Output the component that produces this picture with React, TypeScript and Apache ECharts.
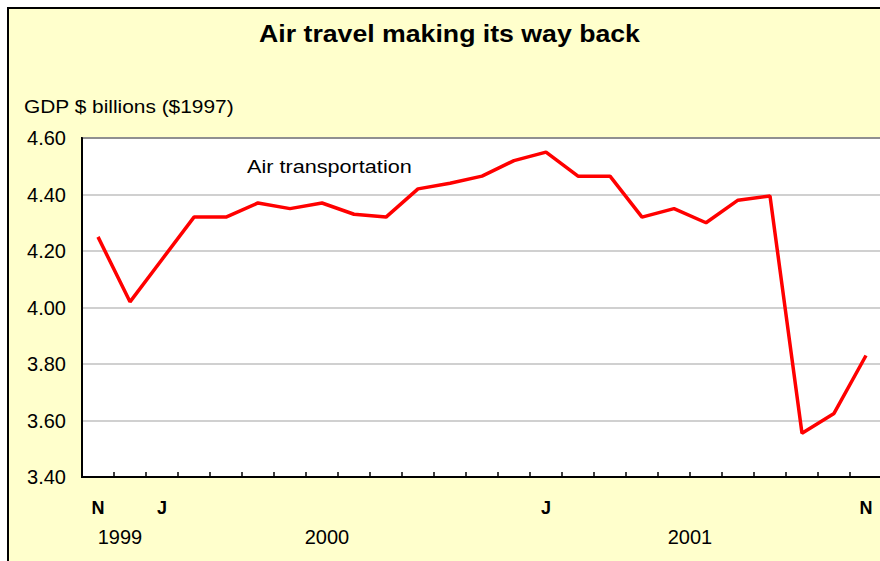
import React, { useEffect, useRef } from "react";
import * as echarts from "echarts";

const months = [
  "Nov 1999", "Dec 1999",
  "Jan 2000", "Feb 2000", "Mar 2000", "Apr 2000", "May 2000", "Jun 2000",
  "Jul 2000", "Aug 2000", "Sep 2000", "Oct 2000", "Nov 2000", "Dec 2000",
  "Jan 2001", "Feb 2001", "Mar 2001", "Apr 2001", "May 2001", "Jun 2001",
  "Jul 2001", "Aug 2001", "Sep 2001", "Oct 2001", "Nov 2001",
];

const tickLabels = [
  "N", "", "J", "", "", "", "", "", "", "", "", "", "", "",
  "J", "", "", "", "", "", "", "", "", "", "N",
];

const airTransportation = [
  4.25, 4.02, 4.17, 4.32, 4.32, 4.37, 4.35, 4.37, 4.33, 4.32, 4.42, 4.44,
  4.465, 4.52, 4.55, 4.465, 4.465, 4.32, 4.35, 4.3, 4.38, 4.395, 3.555,
  3.625, 3.83,
];

const yearLabels = ["1999", "2000", "2001"];

const FONT = "'Liberation Sans', Arial, Helvetica, sans-serif";

export default function App() {
  const ref = useRef<HTMLDivElement>(null);

  useEffect(() => {
    if (!ref.current) return;
    const chart = echarts.init(ref.current, null, { renderer: "svg" });
    const yearX = [120, 327, 690];
    chart.setOption({
      animation: false,
      backgroundColor: "#ffffff",
      textStyle: { fontFamily: FONT },
      grid: {
        left: 82,
        top: 138,
        width: 800,
        height: 339,
        show: true,
        backgroundColor: "#ffffff",
        borderColor: "#000000",
        borderWidth: 2,
      },
      xAxis: {
        type: "category",
        data: months,
        boundaryGap: true,
        z: 5,
        axisLine: { show: true, lineStyle: { color: "#000", width: 2 } },
        axisTick: {
          show: true,
          inside: true,
          length: 5,
          interval: 0,
          lineStyle: { color: "#000", width: 1.5 },
        },
        axisLabel: {
          interval: 0,
          margin: 22,
          color: "#000",
          fontSize: 18,
          fontWeight: "bold",
          fontFamily: FONT,
          formatter: (_v: string, i: number) => tickLabels[i],
        },
        splitLine: { show: false },
      },
      yAxis: {
        type: "value",
        min: 3.4,
        max: 4.6,
        interval: 0.2,
        axisLine: { show: true, lineStyle: { color: "#000", width: 2 } },
        axisTick: { show: false },
        axisLabel: {
          margin: 16,
          color: "#000",
          fontSize: 20,
          fontFamily: FONT,
          formatter: (v: number) => v.toFixed(2),
        },
        splitLine: { show: true, lineStyle: { color: "#c0c0c0", width: 1.5 } },
      },
      series: [
        {
          type: "line",
          name: "Air transportation",
          data: airTransportation,
          symbol: "none",
          lineStyle: { color: "#ff0000", width: 3.5 },
          z: 3,
        },
      ],
      graphic: [
        {
          type: "rect",
          z: -10,
          silent: true,
          shape: { x: 8, y: 8, width: 1000, height: 700 },
          style: { fill: "#FFFFCC", stroke: "#000", lineWidth: 2 },
        },
        {
          type: "text",
          x: 449.5,
          y: 34,
          scaleX: 1.16,
          style: {
            text: "Air travel making its way back",
            fontSize: 23,
            fontWeight: "bold",
            fontFamily: FONT,
            fill: "#000",
            align: "center",
            verticalAlign: "middle",
          },
        },
        {
          type: "text",
          x: 24,
          y: 107,
          scaleX: 1.16,
          style: {
            text: "GDP $ billions ($1997)",
            fontSize: 18,
            fontFamily: FONT,
            fill: "#000",
            align: "left",
            verticalAlign: "middle",
          },
        },
        {
          type: "text",
          x: 247,
          y: 167,
          z: 10,
          scaleX: 1.17,
          style: {
            text: "Air transportation",
            fontSize: 18.5,
            fontFamily: FONT,
            fill: "#000",
            align: "left",
            verticalAlign: "middle",
          },
        },
        ...yearLabels.map((t, i) => ({
          type: "text",
          x: yearX[i],
          y: 537,
          style: {
            text: t,
            fontSize: 20,
            fontFamily: FONT,
            fill: "#000",
            align: "center",
            verticalAlign: "middle",
          },
        })),
      ],
    });
    return () => chart.dispose();
  }, []);

  return (
    <div style={{ position: "fixed", left: 0, top: 0, width: 880, height: 561, overflow: "hidden" }}>
      <div ref={ref} style={{ width: 1000, height: 700 }} />
    </div>
  );
}
